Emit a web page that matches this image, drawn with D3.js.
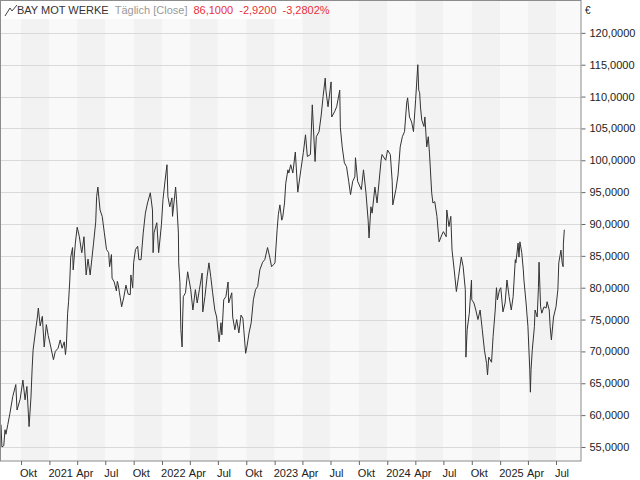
<!DOCTYPE html>
<html>
<head>
<meta charset="utf-8">
<script src="https://cdn.jsdelivr.net/npm/d3@7.9.0/dist/d3.min.js"></script>
<style>
  body { margin: 0; background: #fff; }
  svg { font-family: "Liberation Sans", Arial, sans-serif; font-size: 11px; }
</style>
</head>
<body>
<svg id="chart" width="640" height="480"></svg>
<script>
// ---- data ----
const dates = [
  "2020-07-28","2020-07-31","2020-08-06","2020-08-10","2020-08-13","2020-08-19","2020-08-26","2020-09-04","2020-09-14","2020-09-18",
  "2020-09-28","2020-10-07","2020-10-14","2020-10-20","2020-10-27","2020-11-02","2020-11-06","2020-11-09","2020-11-16","2020-11-23",
  "2020-11-26","2020-12-02","2020-12-09","2020-12-15","2020-12-22","2020-12-28","2021-01-04","2021-01-14","2021-01-20","2021-01-29",
  "2021-02-05","2021-02-11","2021-02-18","2021-02-22","2021-02-25","2021-03-01","2021-03-04","2021-03-08","2021-03-11","2021-03-17",
  "2021-03-19","2021-03-26","2021-04-01","2021-04-08","2021-04-14","2021-04-16","2021-04-23","2021-04-30","2021-05-06","2021-05-13",
  "2021-05-24","2021-05-31","2021-06-03","2021-06-07","2021-06-14","2021-06-21","2021-06-28","2021-07-05","2021-07-12","2021-07-15",
  "2021-07-21","2021-07-23","2021-07-30","2021-08-06","2021-08-09","2021-08-12","2021-08-16","2021-08-23","2021-08-30","2021-09-06",
  "2021-09-13","2021-09-20","2021-09-22","2021-09-28","2021-10-01","2021-10-07","2021-10-14","2021-10-18","2021-10-25","2021-11-01",
  "2021-11-08","2021-11-15","2021-11-24","2021-12-01","2021-12-03","2021-12-06","2021-12-15","2021-12-21","2021-12-30","2022-01-04",
  "2022-01-11","2022-01-17","2022-01-20","2022-01-26","2022-02-02","2022-02-04","2022-02-14","2022-02-17","2022-02-23","2022-02-24",
  "2022-02-28","2022-03-03","2022-03-07","2022-03-09","2022-03-11","2022-03-18","2022-03-25","2022-04-04","2022-04-11","2022-04-19",
  "2022-04-25","2022-05-02","2022-05-11","2022-05-13","2022-05-20","2022-05-27","2022-06-02","2022-06-08","2022-06-14","2022-06-21",
  "2022-06-27","2022-07-01","2022-07-05","2022-07-11","2022-07-14","2022-07-20","2022-07-27","2022-08-03","2022-08-05","2022-08-15",
  "2022-08-18","2022-08-25","2022-08-31","2022-09-07","2022-09-14","2022-09-20","2022-09-23","2022-09-29","2022-10-03","2022-10-10",
  "2022-10-17","2022-10-24","2022-10-31","2022-11-07","2022-11-14","2022-11-23","2022-11-30","2022-12-09","2022-12-16","2022-12-22",
  "2022-12-28","2023-01-02","2023-01-09","2023-01-13","2023-01-18","2023-01-24","2023-01-27","2023-02-02","2023-02-06","2023-02-13",
  "2023-02-16","2023-02-22","2023-03-01","2023-03-09","2023-03-17","2023-03-27","2023-04-04","2023-04-11","2023-04-17","2023-04-27",
  "2023-05-03","2023-05-12","2023-05-16","2023-05-25","2023-06-01","2023-06-07","2023-06-14","2023-06-16","2023-06-23","2023-07-03",
  "2023-07-05","2023-07-14","2023-07-21","2023-07-31","2023-08-02","2023-08-08","2023-08-15","2023-08-22","2023-08-29","2023-09-04",
  "2023-09-11","2023-09-18","2023-09-20","2023-09-27","2023-10-09","2023-10-16","2023-10-24","2023-10-31","2023-11-03","2023-11-09",
  "2023-11-13","2023-11-22","2023-11-29","2023-12-06","2023-12-12","2023-12-15","2023-12-27","2024-01-02","2024-01-11","2024-01-17",
  "2024-01-19","2024-01-29","2024-02-05","2024-02-12","2024-02-19","2024-02-26","2024-03-04","2024-03-07","2024-03-13","2024-03-20",
  "2024-03-26","2024-04-02","2024-04-09","2024-04-12","2024-04-15","2024-04-18","2024-04-22","2024-04-29","2024-05-02","2024-05-08",
  "2024-05-13","2024-05-17","2024-05-24","2024-05-28","2024-06-03","2024-06-10","2024-06-17","2024-06-26","2024-07-01","2024-07-10",
  "2024-07-12","2024-07-19","2024-07-25","2024-07-29","2024-08-05","2024-08-12","2024-08-19","2024-08-28","2024-09-03","2024-09-10",
  "2024-09-12","2024-09-16","2024-09-23","2024-09-30","2024-10-01","2024-10-08","2024-10-14","2024-10-21","2024-10-28","2024-11-04",
  "2024-11-11","2024-11-18","2024-11-21","2024-11-25","2024-12-04","2024-12-09","2024-12-16","2024-12-20","2024-12-23","2024-12-30",
  "2025-01-03","2025-01-10","2025-01-17","2025-01-23","2025-01-30","2025-02-06","2025-02-12","2025-02-19","2025-02-21","2025-02-28",
  "2025-03-03","2025-03-06","2025-03-12","2025-03-17","2025-03-19","2025-03-26","2025-04-01","2025-04-07","2025-04-09","2025-04-11",
  "2025-04-15","2025-04-22","2025-04-24","2025-05-01","2025-05-05","2025-05-07","2025-05-12","2025-05-16","2025-05-23","2025-05-30",
  "2025-06-02","2025-06-09","2025-06-12","2025-06-16","2025-06-23","2025-07-01","2025-07-07","2025-07-10","2025-07-17","2025-07-21",
  "2025-07-24","2025-07-25","2025-07-28"
];
const closes = [
  58.5,55.0,55.2,57.7,57.0,58.5,60.3,62.9,64.8,60.8,
  62.5,65.5,62.4,64.5,58.2,62.7,67.4,70.2,72.9,75.4,
  76.8,74.0,75.5,70.7,74.2,72.5,71.0,68.7,70.0,70.5,
  71.8,70.5,71.5,69.5,71.0,76.0,77.8,81.2,84.8,86.3,
  82.8,87.0,89.5,88.0,86.0,85.5,88.0,82.0,84.5,82.0,
  87.0,90.3,94.3,95.8,92.2,91.2,88.6,86.0,85.5,83.3,
  85.2,81.5,80.9,79.5,81.0,80.5,79.2,77.0,78.5,80.4,
  79.0,78.9,82.0,80.0,84.0,86.0,86.5,84.4,84.4,88.6,
  91.7,93.3,94.9,92.2,85.5,88.6,90.2,85.5,89.9,93.8,
  96.9,99.3,94.3,92.7,94.1,91.2,95.8,93.8,88.6,83.9,
  80.8,73.4,70.7,75.4,78.6,79.2,82.5,79.7,76.5,79.7,
  77.6,79.7,82.3,76.2,78.6,81.7,83.9,81.7,79.2,76.5,
  75.4,73.4,71.5,74.5,72.6,78.1,78.6,80.9,77.6,79.2,
  75.4,73.4,75.0,72.9,75.7,75.2,73.4,69.7,70.7,72.9,
  74.5,78.1,79.7,80.2,82.8,84.0,84.4,86.3,84.8,83.3,
  83.6,83.9,89.1,91.5,93.0,90.6,91.0,93.3,96.4,98.5,
  98.0,99.3,98.0,101.3,95.0,98.5,101.2,104.0,100.6,100.9,
  108.7,99.8,103.7,104.5,107.1,110.0,112.9,111.0,108.4,112.3,
  106.8,107.6,108.4,111.0,105.1,102.1,99.6,99.0,96.7,94.6,
  96.7,97.4,100.4,96.7,95.4,98.5,94.9,90.6,87.8,92.7,
  91.7,95.8,93.3,96.9,100.0,100.9,100.0,101.6,100.9,96.7,
  93.0,95.4,97.7,102.1,103.7,104.5,109.0,109.8,106.8,106.0,
  104.5,109.5,115.0,111.0,110.6,108.2,106.3,105.3,106.8,102.1,
  103.7,101.0,94.9,93.3,93.5,91.2,87.2,88.3,88.8,88.0,
  92.2,89.6,91.2,85.9,82.8,79.4,81.7,84.8,83.3,79.7,
  69.1,73.4,76.0,81.2,78.1,77.6,76.5,75.0,76.5,73.4,
  70.2,68.1,66.3,69.1,68.3,72.3,76.5,80.0,78.1,79.7,
  80.0,76.2,77.6,81.2,78.6,76.5,78.6,84.4,83.9,87.0,
  84.8,87.2,85.5,82.8,81.2,77.6,73.9,67.1,63.6,67.1,
  70.2,73.9,76.5,75.4,80.0,84.0,77.0,76.0,77.0,76.8,
  77.8,76.5,73.9,71.8,75.4,77.0,79.7,83.9,85.9,83.9,
  83.3,87.0,89.1
];
const yTicks = [55,60,65,70,75,80,85,90,95,100,105,110,115,120];
const monthNames = ["Jan","Feb","Mär","Apr","Mai","Jun","Jul","Aug","Sep","Okt","Nov","Dez"];
const header = { name: "BAY MOT WERKE", mode: "Täglich [Close]", last: "86,1000", change: "-2,9200", pct: "-3,2802%" };

// ---- layout ----
const svg = d3.select("#chart");
const plotL = 1, plotR = 581, plotT = 1, plotB = 461;

const parse = d3.timeParse("%Y-%m-%d");
const data = dates.map((d, i) => ({ date: parse(d), value: closes[i] }));

const x = d3.scaleTime()
  .domain([new Date(2020, 6, 28), new Date(2025, 8, 20)])
  .range([plotL, plotR]);
const y = d3.scaleLinear().domain([52.8, 125]).range([plotB, plotT]);

// alternating quarter bands
const quarters = d3.timeMonth.every(3).range(new Date(2020, 6, 1), new Date(2025, 11, 1));
svg.append("g").selectAll("rect")
  .data(quarters)
  .join("rect")
  .attr("x", d => Math.max(plotL, x(d)))
  .attr("y", plotT)
  .attr("width", d => Math.max(0, Math.min(plotR, x(d3.timeMonth.offset(d, 3))) - Math.max(plotL, x(d))))
  .attr("height", plotB - plotT)
  .attr("fill", d => (d.getMonth() === 3 || d.getMonth() === 9) ? "#f2f2f2" : "#f9f9f9");

// horizontal grid
svg.append("g").selectAll("line")
  .data(yTicks)
  .join("line")
  .attr("x1", plotL).attr("x2", plotR)
  .attr("y1", d => Math.round(y(d)) + 0.5).attr("y2", d => Math.round(y(d)) + 0.5)
  .attr("stroke", "#d9d9d9");

// price line
const line = d3.line().x(d => x(d.date)).y(d => y(d.value));
svg.append("path")
  .datum(data)
  .attr("d", line)
  .attr("fill", "none")
  .attr("stroke", "#333")
  .attr("stroke-width", 1);

// frame
svg.append("rect")
  .attr("x", 0.5).attr("y", 0.5)
  .attr("width", plotR - 0.5).attr("height", plotB - 0.5)
  .attr("fill", "none").attr("stroke", "#8c8c8c");

// right axis
const yAxis = d3.axisRight(y)
  .tickValues(yTicks)
  .tickSize(4)
  .tickPadding(4)
  .tickFormat(d => d3.format(".4f")(d).replace(".", ","));
const ya = svg.append("g").attr("transform", `translate(${plotR + 0.5},0)`).call(yAxis);
ya.select(".domain").remove();
ya.selectAll("line").attr("stroke", "#666");
ya.selectAll("text").attr("fill", "#222").style("font-size", "11px");

svg.append("text").attr("x", 585).attr("y", 14).attr("fill", "#222")
  .style("font-size", "10px").text("€");

// bottom axis: quarter ticks, labels left-aligned at the tick
const xTicks = d3.timeMonth.every(3).range(new Date(2020, 9, 1), new Date(2025, 7, 1));
const xa = svg.append("g").attr("transform", `translate(0,${plotB})`)
  .call(d3.axisBottom(x).tickValues(xTicks).tickSize(4).tickFormat(""));
xa.select(".domain").remove();
xa.selectAll("line").attr("stroke", "#666");
svg.append("g").selectAll("text")
  .data(xTicks)
  .join("text")
  .attr("x", d => x(d) - 1)
  .attr("y", 477)
  .attr("fill", "#222")
  .text(d => d.getMonth() === 0 ? d.getFullYear() : monthNames[d.getMonth()]);

// header legend
svg.append("rect").attr("x", 1).attr("y", 1).attr("width", 300).attr("height", 18).attr("fill", "#fff");
svg.append("path").attr("d", "M5,16 L10,8 L12,11 L17,5").attr("fill", "none").attr("stroke", "#444");
const ht = svg.append("text").attr("x", 17).attr("y", 14);
ht.append("tspan").attr("fill", "#333").text(header.name);
ht.append("tspan").attr("dx", 6).attr("fill", "#999").text(header.mode);
ht.append("tspan").attr("dx", 6).attr("fill", "#e8303a").text(header.last);
ht.append("tspan").attr("dx", 6).attr("fill", "#e8303a").text(header.change);
ht.append("tspan").attr("dx", 6).attr("fill", "#e8303a").text(header.pct);
</script>
</body>
</html>
